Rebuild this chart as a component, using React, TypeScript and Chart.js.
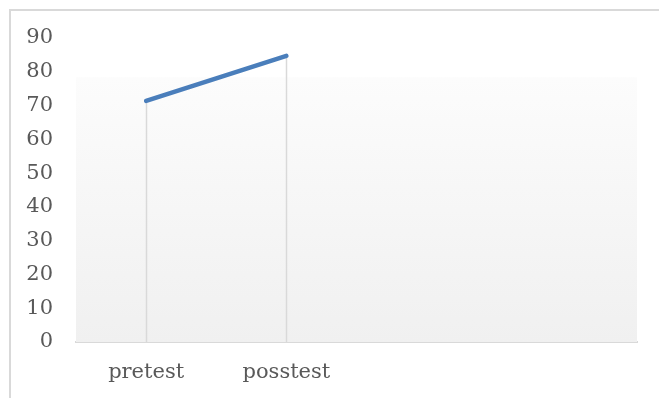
import React, { useEffect, useRef } from "react";
import { Chart, registerables } from "chart.js";

Chart.register(...registerables);

const categories = ["pretest", "posstest", "", ""];
const scores = [71.4, 84.7, null, null];
const yMin = 0;
const yMax = 90;
const yStep = 10;
const fillTopValue = 78.4;

const LABEL_COLOR = "#595959";
const LINE_COLOR = "#4A7EBB";
const RULE_COLOR = "#D9D9D9";
const FONT = { family: "'DejaVu Serif', serif", size: 21 };

const decorPlugin = {
  id: "decor",
  beforeDatasetsDraw(chart: any) {
    const { ctx, chartArea, scales } = chart;
    const top = scales.y.getPixelForValue(fillTopValue);
    const g = ctx.createLinearGradient(0, top, 0, chartArea.bottom);
    g.addColorStop(0, "#FCFCFC");
    g.addColorStop(1, "#F0F0F0");
    ctx.save();
    ctx.fillStyle = g;
    ctx.fillRect(chartArea.left, top, chartArea.right - chartArea.left, chartArea.bottom - top);
    const meta = chart.getDatasetMeta(0);
    ctx.strokeStyle = RULE_COLOR;
    ctx.lineWidth = 1.5;
    meta.data.forEach((pt: any, i: number) => {
      const v = chart.data.datasets[0].data[i];
      if (v === null || v === undefined) return;
      ctx.beginPath();
      ctx.moveTo(Math.round(pt.x) + 0.5, pt.y);
      ctx.lineTo(Math.round(pt.x) + 0.5, chartArea.bottom);
      ctx.stroke();
    });
    ctx.restore();
  },
};

export default function App() {
  const ref = useRef<HTMLCanvasElement | null>(null);

  useEffect(() => {
    if (!ref.current) return;
    const chart = new Chart(ref.current, {
      type: "line",
      data: {
        labels: categories,
        datasets: [
          {
            data: scores,
            borderColor: LINE_COLOR,
            borderWidth: 4.5,
            borderCapStyle: "round",
            pointRadius: 0,
            pointHoverRadius: 0,
            fill: false,
            tension: 0,
          },
        ],
      },
      options: {
        animation: false,
        responsive: false,
        maintainAspectRatio: false,
        layout: { padding: { left: 0, right: 22, top: 38, bottom: 0 } },
        plugins: { legend: { display: false }, tooltip: { enabled: false } },
        scales: {
          x: {
            offset: true,
            grid: { display: false, drawTicks: false },
            border: { display: true, color: RULE_COLOR, width: 2 },
            ticks: { color: LABEL_COLOR, font: FONT, padding: 18, maxRotation: 0, autoSkip: false },
            afterFit(scale: any) {
              scale.height = 56;
            },
          },
          y: {
            min: yMin,
            max: yMax,
            grid: { display: false, drawTicks: false },
            border: { display: false },
            ticks: { stepSize: yStep, color: LABEL_COLOR, font: FONT, padding: 23 },
            afterFit(scale: any) {
              scale.width = 76;
            },
          },
        },
      },
      plugins: [decorPlugin],
    });
    return () => chart.destroy();
  }, []);

  return (
    <div style={{ position: "fixed", left: 0, top: 0, width: 659, height: 398, overflow: "hidden", background: "#fff" }}>
      <div
        style={{
          position: "absolute",
          left: 9,
          top: 9,
          width: 700,
          height: 450,
          borderTop: `2px solid ${RULE_COLOR}`,
          borderLeft: `2px solid ${RULE_COLOR}`,
        }}
      />
      <canvas ref={ref} width={659} height={398} style={{ position: "absolute", left: 0, top: 0, width: 659, height: 398 }} />
    </div>
  );
}
